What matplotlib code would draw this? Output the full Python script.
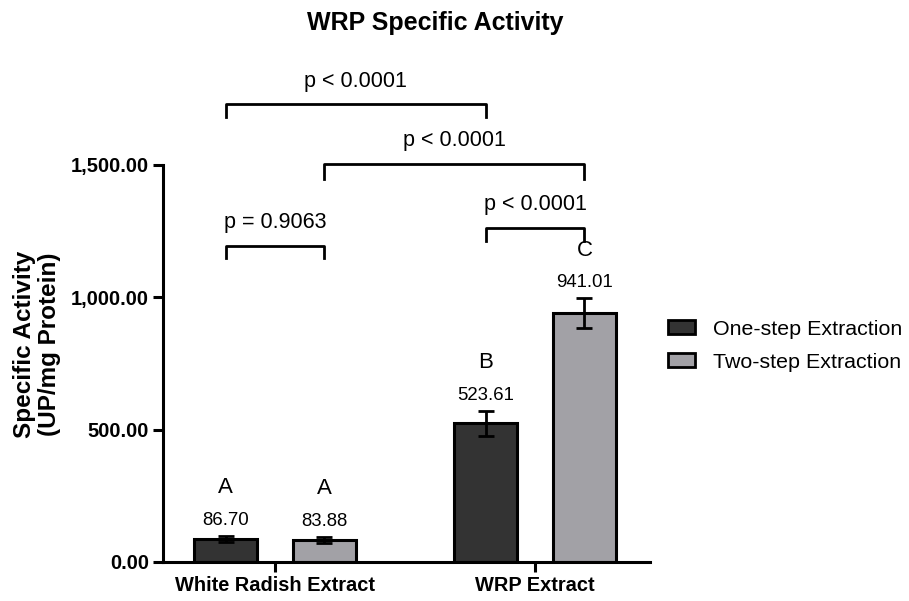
import matplotlib
matplotlib.use('Agg')
import matplotlib.pyplot as plt
from matplotlib.patches import Patch
import numpy as np

plt.rcParams['font.family'] = ['Liberation Sans', 'DejaVu Sans']

# data
groups = ['White Radish Extract', 'WRP Extract']
series = ['One-step Extraction', 'Two-step Extraction']
one_step = [86.70, 523.61]
two_step = [83.88, 941.01]
one_step_err = [13, 48]
two_step_err = [12, 56]
letters_one = ['A', 'B']
letters_two = ['A', 'C']
colors = ['#333333', '#A2A1A6']

# comparisons: (bar index a, bar index b, bracket level, leg drop, label)
# bar index: 0=WRE one, 1=WRE two, 2=WRP one, 3=WRP two
comparisons = [
    (0, 2, 1730, 50, 'p < 0.0001'),
    (1, 3, 1504, 57, 'p < 0.0001'),
    (2, 3, 1262, 50, 'p < 0.0001'),
    (0, 1, 1194, 46, 'p = 0.9063'),
]

x = np.arange(len(groups))
width = 0.242
offset = 0.19

fig = plt.figure(figsize=(9.09, 6.01), dpi=100)
ax = fig.add_axes([0.1793, 0.0649, 0.5358, 0.6606])

ax.bar(x - offset, one_step, width, color=colors[0], edgecolor='black', linewidth=2.2, zorder=2)
ax.bar(x + offset, two_step, width, color=colors[1], edgecolor='black', linewidth=2.2, zorder=2)
ax.errorbar(x - offset, one_step, yerr=one_step_err, fmt='none', ecolor='black',
            elinewidth=2, capsize=5.8, capthick=2, zorder=3)
ax.errorbar(x + offset, two_step, yerr=two_step_err, fmt='none', ecolor='black',
            elinewidth=2, capsize=5.8, capthick=2, zorder=3)

# value and letter labels
xs = list(x - offset) + list(x + offset)
vals = one_step + two_step
errs = one_step_err + two_step_err
lets = letters_one + letters_two
for xi, v, e, l in zip(xs, vals, errs, lets):
    ax.annotate(f'{v:.2f}', xy=(xi, v + e), xytext=(0, 5), textcoords='offset points',
                ha='center', va='bottom', fontsize=13.4)
    ax.annotate(l, xy=(xi, v + e), xytext=(0, 27), textcoords='offset points',
                ha='center', va='bottom', fontsize=16)

# significance brackets
bar_x = [x[0] - offset, x[0] + offset, x[1] - offset, x[1] + offset]
for a, b, level, drop, label in comparisons:
    xa, xb = bar_x[a], bar_x[b]
    ax.plot([xa, xa, xb, xb], [level - drop, level, level, level - drop],
            color='black', linewidth=2, clip_on=False)
    ax.annotate(label, xy=((xa + xb) / 2, level), xytext=(0, 9), textcoords='offset points',
                ha='center', va='bottom', fontsize=15.5, annotation_clip=False)

ax.set_xlim(-0.431, 1.442)
ax.set_ylim(0, 1500)
ax.set_yticks([0, 500, 1000, 1500])
ax.set_yticklabels([f'{t:,.2f}' for t in [0, 500, 1000, 1500]], fontsize=14.5, fontweight='bold')
ax.set_xticks(x)
ax.set_xticklabels(groups, fontsize=14.4, fontweight='bold')
ax.spines['top'].set_visible(False)
ax.spines['right'].set_visible(False)
ax.spines['left'].set_linewidth(2.2)
ax.spines['bottom'].set_linewidth(2.2)
ax.tick_params(axis='both', width=2.2, length=7, pad=3)

fig.text(0.4785, 0.962, 'WRP Specific Activity', ha='center', va='center',
         fontsize=18, fontweight='bold')
fig.text(0.041, 0.427, 'Specific Activity\n(UP/mg Protein)', ha='center', va='center',
         rotation=90, fontsize=17.5, fontweight='bold', linespacing=1.12)

handles = [Patch(facecolor=colors[0], edgecolor='black', linewidth=2),
           Patch(facecolor=colors[1], edgecolor='black', linewidth=2)]
fig.legend(handles, series, loc='center left', bbox_to_anchor=(0.735, 0.425),
           frameon=False, fontsize=15.4, handlelength=1.28, handleheight=0.62,
           handletextpad=0.8, labelspacing=0.65, borderpad=0, borderaxespad=0)

fig.savefig('out.png', dpi=100)
